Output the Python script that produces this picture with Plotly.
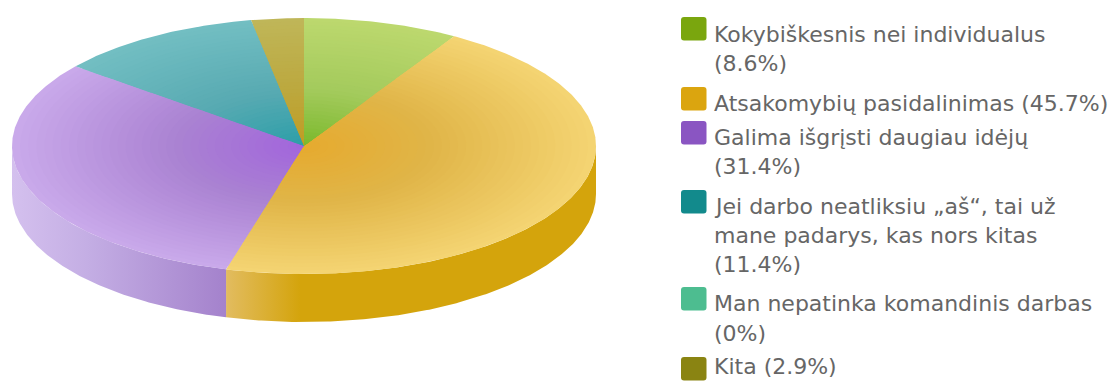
import numpy as np
import plotly.graph_objects as go

# Survey shares, in percent, clockwise from twelve o'clock
shares = [8.6, 45.7, 31.4, 11.4, 0, 2.9]
legend_lines = [
    ["Kokybiškesnis nei individualus", "(8.6%)"],
    ["Atsakomybių pasidalinimas (45.7%)"],
    ["Galima išgrįsti daugiau idėjų", "(31.4%)"],
    ["Jei darbo neatliksiu „aš“, tai už", "mane padarys, kas nors kitas", "(11.4%)"],
    ["Man nepatinka komandinis darbas", "(0%)"],
    ["Kita (2.9%)"],
]
swatch_colors = ["#7aa60e", "#dba50f", "#8a55c2", "#128a8c", "#4dbd90", "#8a8412"]
tip_colors = ["#79b82a", "#e6aa2e", "#a264dc", "#2a9ea8", "#4dbd90", "#c09c22"]
mid_colors = ["#a3ca5c", "#e0b548", "#aa82d2", "#58aab2", "#6cc8a2", "#bca83e"]
rim_colors = ["#bcd86e", "#f4d472", "#c9a9ea", "#72bec2", "#88d4b4", "#bfb658"]
wall_light = {1: "#e2bc60", 2: "#d4c0ee"}
wall_dark = {1: "#d4a40c", 2: "#a482cc"}

# Legend vertical layout, in pixels from the top of the page
swatch_tops = [17, 87, 121, 190, 287, 357]
text_rows = [[34, 63], [103], [137, 166], [206, 235, 264], [303, 333], [366]]

CX, CY, RX, RY, DEPTH = 304, 146, 292, 128, 48
RINGS = 36


def hex_rgb(c):
    return np.array([int(c[i:i + 2], 16) for i in (1, 3, 5)], float)


def rim_mix(tip, mid, rim, t):
    """Colour at relative radius t between the centre and the rim."""
    a, b, c = hex_rgb(tip), hex_rgb(mid), hex_rgb(rim)
    col = a + (b - a) * t / 0.45 if t < 0.45 else b + (c - b) * (t - 0.45) / 0.55
    return "rgb(%d,%d,%d)" % tuple(col.round())


def arc(a0, a1, scale=1.0, dy=0.0):
    th = np.radians(np.linspace(a0, a1, max(int(abs(a1 - a0) * 2), 2)))
    return CX + scale * RX * np.sin(th), CY + dy - scale * RY * np.cos(th)


fig = go.Figure()
edges = np.cumsum([0] + shares) / sum(shares) * 360

# Outer wall: only the part of the rim facing the viewer shows
for i, (a0, a1) in enumerate(zip(edges[:-1], edges[1:])):
    lo, hi = max(a0, 90), min(a1, 270)
    if hi <= lo or i not in wall_light:
        continue
    x_top, y_top = arc(lo, hi)
    x_bot, y_bot = arc(hi, lo, dy=DEPTH)
    if i == 1:
        # lit at the seam with its neighbour, solid past the first fifth of its span
        stops = [[0, wall_light[i]], [0.2, wall_dark[i]], [1, wall_dark[i]]]
    else:
        stops = [[0, wall_light[i]], [0.35, "#c4aee4"], [1, wall_dark[i]]]
    fig.add_trace(go.Scatter(
        x=np.r_[x_top, x_bot], y=np.r_[y_top, y_bot], mode="lines",
        line=dict(width=0), fill="toself", hoverinfo="skip",
        fillgradient=dict(type="horizontal", colorscale=stops),
    ))

# Top face: nested sectors shade every slice from its tip to the rim
for level in range(RINGS, 0, -1):
    t = level / RINGS
    for i, (a0, a1) in enumerate(zip(edges[:-1], edges[1:])):
        if a1 <= a0:
            continue
        ax, ay = arc(a0, a1, scale=t)
        fig.add_trace(go.Scatter(
            x=np.r_[CX, ax, CX], y=np.r_[CY, ay, CY], mode="lines",
            line=dict(width=0), fill="toself", hoverinfo="skip",
            fillcolor=rim_mix(tip_colors[i], mid_colors[i], rim_colors[i], t),
        ))

# Legend: rounded swatches and one annotation per text row
shapes, annotations = [], []
for color, top, rows, lines in zip(swatch_colors, swatch_tops, text_rows, legend_lines):
    l, r, t, b = 681, 706.5, top, top + 23.5
    k = 3
    shapes.append(dict(
        type="path", line=dict(width=0), fillcolor=color,
        path=f"M{l + k},{t} L{r - k},{t} Q{r},{t} {r},{t + k} L{r},{b - k} Q{r},{b} {r - k},{b} "
             f"L{l + k},{b} Q{l},{b} {l},{b - k} L{l},{t + k} Q{l},{t} {l + k},{t} Z",
    ))
    for y, text in zip(rows, lines):
        annotations.append(dict(
            x=712, y=y, text=text, showarrow=False, xanchor="left", yanchor="middle",
            font=dict(family="DejaVu Sans", size=22, color="#666666"),
        ))

fig.update_layout(
    width=1112, height=383, margin=dict(l=0, r=0, t=0, b=0),
    paper_bgcolor="white", plot_bgcolor="white", showlegend=False,
    xaxis=dict(range=[0, 1112], visible=False, fixedrange=True),
    yaxis=dict(range=[383, 0], visible=False, fixedrange=True),
    shapes=shapes, annotations=annotations,
)
fig.write_html("out.html", config=dict(displayModeBar=False))
